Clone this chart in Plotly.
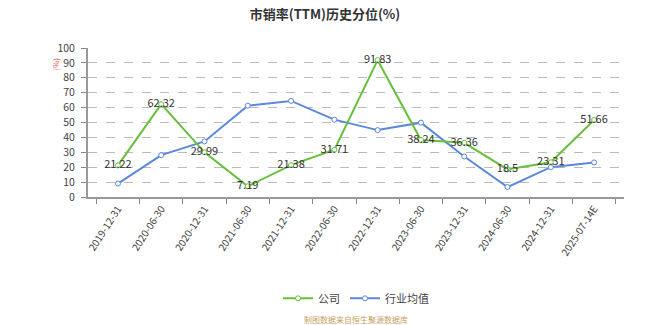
import plotly.graph_objects as go

categories = ["2019-12-31", "2020-06-30", "2020-12-31", "2021-06-30", "2021-12-31",
              "2022-06-30", "2022-12-31", "2023-06-30", "2023-12-31", "2024-06-30",
              "2024-12-31", "2025-07-14E"]
company = [21.22, 62.32, 29.99, 7.19, 21.38, 31.71, 91.83, 38.24, 36.36, 18.5, 23.31, 51.66]
industry = [9.0, 28.1, 37.3, 61.3, 64.5, 51.9, 44.9, 49.9, 27.2, 6.7, 20.0, 23.2]
y_ticks = list(range(0, 101, 10))

green = "#67bf3a"
blue = "#5b87dc"
font = "Noto Sans CJK SC, Noto Sans, sans-serif"

fig = go.Figure()
fig.add_trace(go.Scatter(
    x=categories, y=industry, name="行业均值", mode="lines+markers",
    line=dict(color=blue, width=2),
    marker=dict(symbol="circle", size=5, color="white", line=dict(color=blue, width=1)),
    legendrank=2,
))
fig.add_trace(go.Scatter(
    x=categories, y=company, name="公司", mode="lines+markers+text",
    line=dict(color=green, width=2),
    marker=dict(symbol="circle", size=5, color="white", line=dict(color=green, width=1)),
    text=[f"{v:g}" for v in company], textposition="middle center",
    textfont=dict(size=11, color="#333333", family=font),
    legendrank=1,
))

fig.update_layout(
    width=650, height=325,
    margin=dict(l=88, r=26, t=48, b=128),
    paper_bgcolor="white", plot_bgcolor="white",
    font=dict(family=font, color="#555555"),
    title=dict(text="<b>市销率(TTM)历史分位(%)</b>", x=0.5, xanchor="center",
               y=1 - 14 / 325, yanchor="middle",
               font=dict(size=13, color="#333333", family=font)),
    showlegend=True,
    legend=dict(orientation="h", x=0.5, xanchor="center", y=-0.68, yanchor="middle",
                font=dict(size=11, color="#444444", family=font),
                bgcolor="rgba(0,0,0,0)", itemwidth=30),
    xaxis=dict(
        type="category", tickangle=-57, tickson="boundaries",
        ticks="outside", ticklen=5, tickcolor="#888888",
        showline=True, linecolor="#999999", linewidth=2,
        showgrid=False, tickfont=dict(size=10, color="#444444", family=font),
    ),
    yaxis=dict(
        range=[0, 100], tickvals=y_ticks, ticks="outside", ticklen=5, tickcolor="#888888",
        ticklabelstandoff=4,
        showline=True, linecolor="#999999", linewidth=2,
        showgrid=True, gridcolor="#bbbbbb", griddash="dash", gridwidth=1,
        zeroline=False, tickfont=dict(size=10.5, color="#444444", family=font),
    ),
    annotations=[
        dict(text="(%)", xref="paper", yref="paper", x=-0.06, y=0.893,
             textangle=-90, showarrow=False, font=dict(size=8, color="#d9534f", family=font),
             xanchor="center", yanchor="middle"),
        dict(text="制图数据来自恒生聚源数据库", xref="paper", yref="paper", x=0.5, y=-0.825,
             showarrow=False, font=dict(size=8, color="#c8a060", family=font),
             xanchor="center", yanchor="middle"),
    ],
)

fig.write_html("out.html")
